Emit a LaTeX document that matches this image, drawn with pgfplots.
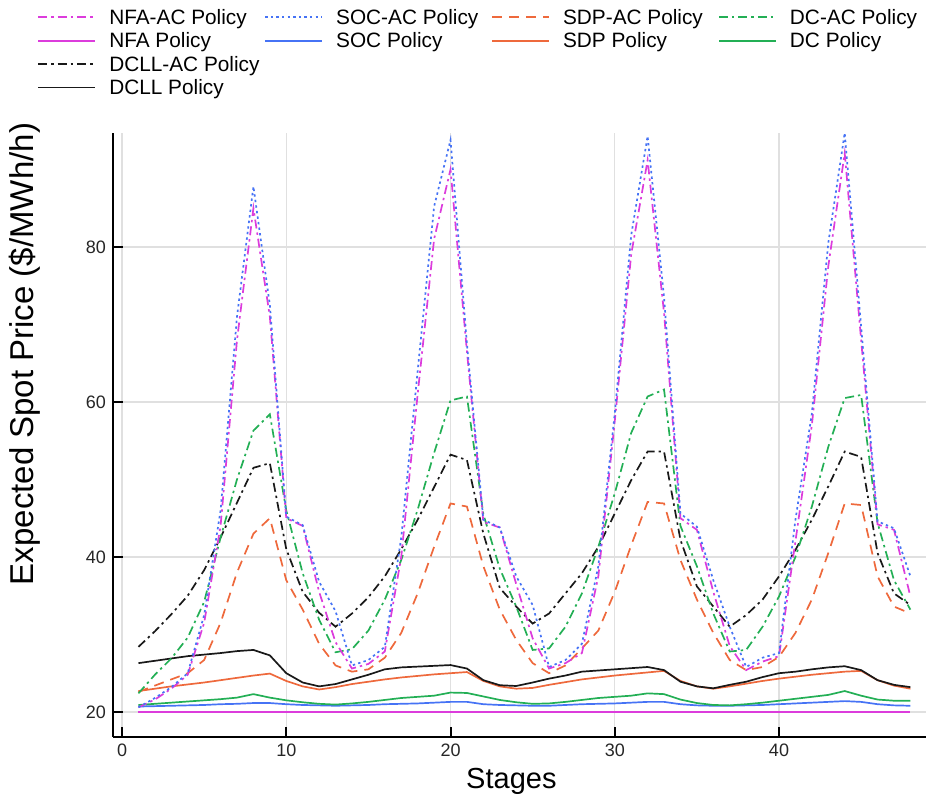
\documentclass[border=0pt]{standalone}
\usepackage{pgfplots}
\pgfplotsset{compat=1.18}
\usepackage{pgfplotstable}
\usepackage{fontspec}
\setmainfont{Liberation Sans}

\definecolor{cmag}{RGB}{220,60,220}
\definecolor{cblue}{RGB}{70,115,245}
\definecolor{corange}{RGB}{238,105,60}
\definecolor{cgreen}{RGB}{35,175,85}
\definecolor{cblack}{RGB}{25,25,25}

\tikzset{
  pdash/.style={dash pattern=on 5pt off 3.5pt},
  pdot/.style={dash pattern=on 1.2pt off 1.6pt},
  pdashdot/.style={dash pattern=on 4.5pt off 2pt on 1.2pt off 2pt},
}

\pgfplotstableread{
s nfaac socac sdpac dcac nfa soc sdp dc dcllac dcll
1 20.6 20.6 22.6 22.4 19.95 20.7 22.7 20.9 28.4 26.3
2 21.6 21.8 23.4 24.8 19.95 20.75 23.0 21.05 30.4 26.6
3 23.0 23.2 24.2 26.9 19.95 20.8 23.3 21.2 32.6 26.9
4 24.8 25.0 25.0 29.6 19.95 20.85 23.55 21.35 35.0 27.2
5 31.5 32.5 26.7 34.2 19.95 20.9 23.8 21.5 38.3 27.4
6 44.0 46.0 31.5 42.5 19.95 21.0 24.1 21.65 42.5 27.6
7 68.0 71.0 38.0 50.0 19.95 21.05 24.4 21.85 47.0 27.85
8 85.0 87.8 43.0 56.3 19.95 21.15 24.7 22.3 51.5 28.0
9 71.0 72.5 45.0 58.4 19.95 21.15 24.95 21.85 52.1 27.3
10 45.0 45.2 37.0 46.0 19.95 21.0 24.0 21.5 41.0 25.0
11 44.0 44.1 33.2 37.9 19.95 20.9 23.3 21.25 35.5 23.8
12 35.5 36.8 28.8 31.9 19.95 20.85 22.9 21.05 32.8 23.3
13 29.0 33.0 26.0 27.7 19.95 20.8 23.2 20.95 31.0 23.6
14 25.6 26.0 25.2 28.1 19.95 20.85 23.6 21.1 32.7 24.2
15 26.2 26.7 25.5 30.5 19.95 20.9 23.9 21.3 34.8 24.8
16 27.8 28.4 27.0 34.5 19.95 21.0 24.2 21.55 37.5 25.5
17 40.0 42.5 30.2 39.6 19.95 21.05 24.45 21.8 41.0 25.75
18 61.0 64.0 35.3 46.1 19.95 21.1 24.65 21.95 44.8 25.85
19 81.0 85.2 41.3 53.4 19.95 21.2 24.85 22.1 49.0 25.95
20 90.0 93.8 46.9 60.2 19.95 21.3 25.0 22.5 53.2 26.05
21 66.5 67.5 46.5 60.7 19.95 21.3 25.15 22.45 52.5 25.6
22 44.5 44.8 38.8 45.5 19.95 21.0 24.0 22.0 43.0 24.1
23 43.8 43.8 33.2 38.5 19.95 20.9 23.3 21.55 36.0 23.45
24 36.5 37.5 29.3 33.6 19.95 20.85 23.0 21.25 33.6 23.35
25 29.5 33.8 26.3 28.0 19.95 20.8 23.1 21.05 31.4 23.8
26 25.6 25.8 25.0 28.2 19.95 20.8 23.5 21.1 32.7 24.3
27 26.3 26.7 26.0 31.0 19.95 20.9 23.85 21.3 35.3 24.7
28 27.6 28.8 28.2 35.3 19.95 21.0 24.2 21.55 37.9 25.2
29 37.5 38.8 30.5 41.3 19.95 21.05 24.45 21.8 41.3 25.35
30 57.5 58.5 35.5 48.2 19.95 21.1 24.7 21.95 45.6 25.5
31 79.0 81.5 41.5 56.0 19.95 21.2 24.9 22.1 49.9 25.65
32 91.2 94.3 47.1 60.7 19.95 21.3 25.1 22.4 53.6 25.8
33 71.5 73.5 46.9 61.6 19.95 21.3 25.3 22.3 53.6 25.4
34 45.0 45.6 39.6 44.0 19.95 21.0 24.0 21.6 42.2 23.9
35 43.5 43.9 34.5 38.8 19.95 20.85 23.3 21.15 36.2 23.3
36 35.5 37.0 30.2 32.7 19.95 20.8 23.0 20.9 33.6 23.05
37 28.5 31.0 26.7 27.8 19.95 20.8 23.3 20.85 31.0 23.5
38 25.4 25.8 25.4 28.0 19.95 20.85 23.65 21.0 32.5 23.9
39 26.5 27.0 25.8 31.0 19.95 20.9 24.0 21.2 34.5 24.5
40 27.2 27.6 27.1 34.9 19.95 21.0 24.3 21.45 37.5 25.0
41 42.0 44.8 30.2 40.0 19.95 21.1 24.55 21.7 40.9 25.2
42 57.0 58.5 34.5 46.5 19.95 21.2 24.8 21.95 44.8 25.5
43 77.5 80.5 40.5 54.2 19.95 21.3 25.0 22.2 49.1 25.75
44 92.1 94.7 46.9 60.5 19.95 21.4 25.2 22.7 53.6 25.9
45 68.0 69.7 46.7 60.9 19.95 21.3 25.3 22.1 52.9 25.4
46 44.2 44.6 37.5 44.4 19.95 21.0 24.1 21.6 40.5 24.1
47 43.5 43.7 33.6 37.0 19.95 20.85 23.4 21.45 35.3 23.5
48 34.9 37.5 32.7 33.2 19.95 20.8 23.0 21.45 33.8 23.2
}\datatable

\newcommand{\lt}[1]{\makebox[77.5pt][l]{\rule[-3pt]{0pt}{11.7pt}#1}}

\begin{document}
\begin{tikzpicture}
\begin{axis}[
  at={(0,0)}, anchor=south west, scale only axis,
  width=406.5pt, height=302pt,
  xmin=-0.55, xmax=48.95, ymin=16.77, ymax=94.7,
  clip=false,
  axis lines*=left,
  axis line style={-, line width=1pt, black},
  xtick={0,10,20,30,40}, ytick={20,40,60,80},
  tick align=inside, major tick length=5pt,
  tick style={black, line width=1pt},
  xtick pos=left, ytick pos=left,
  grid=major, grid style={black!12, line width=0.6pt},
  ticklabel style={font=\fontsize{9}{10}\selectfont, text=black!85},
  /pgf/number format/assume math mode=true,
  xlabel={Stages}, ylabel={Expected Spot Price (\$/MWh/h)},
  xlabel style={font=\fontsize{14.5}{16}\selectfont, at={(axis description cs:0.49,-0.073)}, anchor=center},
  ylabel style={font=\fontsize{16.5}{18}\selectfont, at={(axis description cs:-0.108,0.634)}, anchor=center, rotate=0},
  legend columns=4,
  legend image code/.code={\draw[line width=0.95pt, #1] (0pt,0pt) -- (28.5pt,0pt);},
  legend style={draw=none, fill=none, at={(axis description cs:-0.0935,1.209)}, anchor=north west,
    font=\fontsize{10.4}{12}\selectfont, row sep=1.5pt, inner sep=0pt,
    nodes={inner sep=0pt},
    /tikz/every odd column/.append style={column sep=6.5pt},
    /tikz/every even column/.append style={column sep=0pt}},
  every axis plot/.append style={line width=0.85pt},
]
\addplot[forget plot, cmag, solid] table[x=s, y=nfa] {\datatable};
\addplot[forget plot, cblue, solid] table[x=s, y=soc] {\datatable};
\addplot[forget plot, cgreen, solid] table[x=s, y=dc] {\datatable};
\addplot[forget plot, corange, solid] table[x=s, y=sdp] {\datatable};
\addplot[forget plot, cblack, solid] table[x=s, y=dcll] {\datatable};
\addplot[forget plot, cblack, pdashdot] table[x=s, y=dcllac] {\datatable};
\addplot[forget plot, corange, pdash] table[x=s, y=sdpac] {\datatable};
\addplot[forget plot, cgreen, pdashdot] table[x=s, y=dcac] {\datatable};
\addplot[forget plot, cmag, pdashdot] table[x=s, y=nfaac] {\datatable};
\addplot[forget plot, cblue, pdot] table[x=s, y=socac] {\datatable};

\addlegendimage{draw=cmag, dash pattern=on 4.5pt off 2pt on 1.2pt off 2pt}\addlegendentry{\lt{NFA-AC Policy}}
\addlegendimage{draw=cblue, dash pattern=on 1.2pt off 1.6pt}\addlegendentry{\lt{SOC-AC Policy}}
\addlegendimage{draw=corange, dash pattern=on 5pt off 3.5pt}\addlegendentry{\lt{SDP-AC Policy}}
\addlegendimage{draw=cgreen, dash pattern=on 4.5pt off 2pt on 1.2pt off 2pt}\addlegendentry{\lt{DC-AC Policy}}
\addlegendimage{draw=cmag, solid}\addlegendentry{\lt{NFA Policy}}
\addlegendimage{draw=cblue, solid}\addlegendentry{\lt{SOC Policy}}
\addlegendimage{draw=corange, solid}\addlegendentry{\lt{SDP Policy}}
\addlegendimage{draw=cgreen, solid}\addlegendentry{\lt{DC Policy}}
\addlegendimage{draw=cblack, dash pattern=on 4.5pt off 2pt on 1.2pt off 2pt}\addlegendentry{\lt{DCLL-AC Policy}}
\addlegendimage{empty legend}\addlegendentry{}
\addlegendimage{empty legend}\addlegendentry{}
\addlegendimage{empty legend}\addlegendentry{}
\addlegendimage{draw=cblack, solid}\addlegendentry{\lt{DCLL Policy}}
\end{axis}
\pgfresetboundingbox
\path[use as bounding box] (-56.5pt,-32pt) rectangle (406.5pt,368.5pt);
\end{tikzpicture}
\end{document}
